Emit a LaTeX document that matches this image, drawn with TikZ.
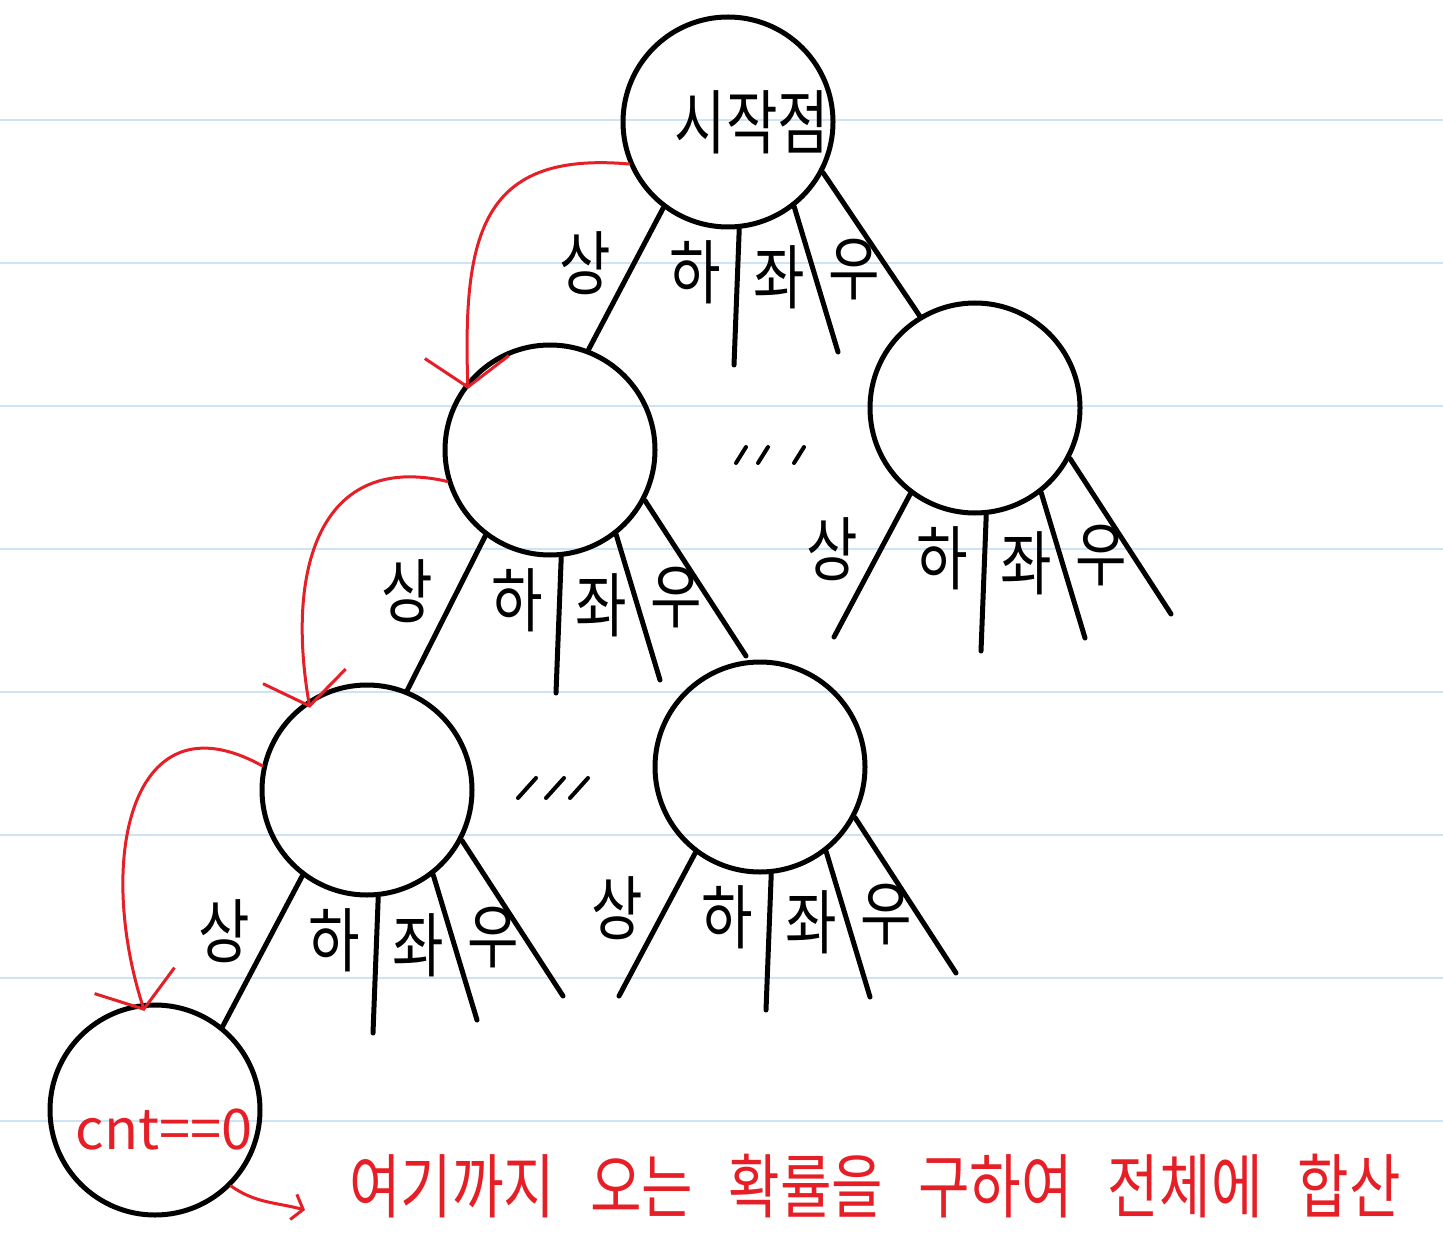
\documentclass[tikz,border=0pt]{standalone}
\usepackage{fontspec}
\newfontfamily\hand[WordSpace=2.8]{Noto Sans CJK KR}
\usetikzlibrary{calc, arrows.meta}
\definecolor{pen}{RGB}{230,30,38}
\definecolor{rule}{RGB}{204,228,246}
% handwriting is taller than the font
\newcommand\tall[1]{\scalebox{1}[1.25]{#1}}

% four moves (up, down, left, right) out of one state
\newcommand\fourway[3]{%
  \path (#1) ++(-141,-229) coordinate (#1-s)
        (#1) ++(6,-243) coordinate (#1-h)
        (#1) ++(110,-230) coordinate (#1-j)
        (#1) ++(196,-206) coordinate (#1-u);
  \draw[move] (#1.-127) -- (#2);
  \draw[move] (#1.-84) -- (#1-h);
  \draw[move] (#1.-52) -- (#1-j);
  \draw[move] (#1.-28) -- (#3);
  \node[dir] (#1-sang) at ($(#1)+(-143,-141)$) {\tall{상}};
  \node[dir] (#1-ha) at ($(#1)+(-33,-150)$) {\tall{하}};
  \node[dir] (#1-jwa) at ($(#1)+(51,-155)$) {\tall{좌}};
  \node[dir] (#1-woo) at ($(#1)+(126,-148)$) {\tall{우}};
}

\begin{document}
\begin{tikzpicture}[x=0.5pt, y=0.5pt,
  state/.style={draw, circle, line width=2.5pt, minimum size=105pt, inner sep=0pt},
  move/.style={line width=2.5pt, line cap=round},
  dir/.style={font=\hand\fontsize{28pt}{32pt}\selectfont},
  tick/.style={line width=2pt, line cap=round},
  paper/.style={draw=rule, line width=1pt},
  flow/.style={draw=pen, line width=1.5pt, line cap=round,
    -{Straight Barb[length=15pt, width=42pt]}, shorten >=-4pt}]
% ruled paper
\fill[white] (0,0) rectangle (1443,-1235);
\useasboundingbox (0,0) rectangle (1443,-1235);
\foreach \y in {120,263,...,1121}
  \draw[paper] (0,-\y) -- (1443,-\y);

% states
\node[state, label={[name=root-text, xshift=12pt, font=\hand\fontsize{28pt}{32pt}\selectfont]center:\tall{시작점}}]
  (root) at (728,-122) {};
\node[state] (l1) at (550,-450) {};
\node[state] (r1) at (975,-408) {};
\node[state] (l2) at (367,-790) {};
\node[state] (r2) at (760,-767) {};
\node[state, label={[name=goal-text, xshift=4.5pt, yshift=-10pt, text=pen, font=\hand\fontsize{28pt}{32pt}\selectfont]center:cnt==0}]
  (goal) at (155,-1110) {};

% moves out of every state
\fourway{root}{l1.69}{r1.121}
\fourway{l1}{l2.68}{l1-u}
\fourway{r1}{r1-s}{r1-u}
\fourway{l2}{goal.51}{l2-u}
\fourway{r2}{r2-s}{r2-u}

% skipped branches
\foreach \x in {736,758,794} \draw[tick] (\x,-463) -- ++(10,16);
\foreach \x in {518,546,570} \draw[tick] (\x,-798) -- ++(18,20);

% search goes down the first move each time
\draw[flow] (root.203) to[out=175, in=92, looseness=1.4] (l1.140);
\draw[flow] (l1.197) to[out=167, in=100, looseness=1.3] (l2.123);
\draw[flow] (l2.167) to[out=151, in=108, looseness=1.45] (goal.97);
\coordinate (sum-in) at (305,-1210);
\draw[flow, -{Straight Barb[length=5pt, width=13pt]}, shorten >=0pt]
  (goal.-45) to[out=-35, in=165] (sum-in);
\node[text=pen, font=\hand\fontsize{28pt}{32pt}\selectfont] (sum) at (875,-1186)
  {\tall{여기까지 오는 확률을 구하여 전체에 합산}};
\end{tikzpicture}
\end{document}
